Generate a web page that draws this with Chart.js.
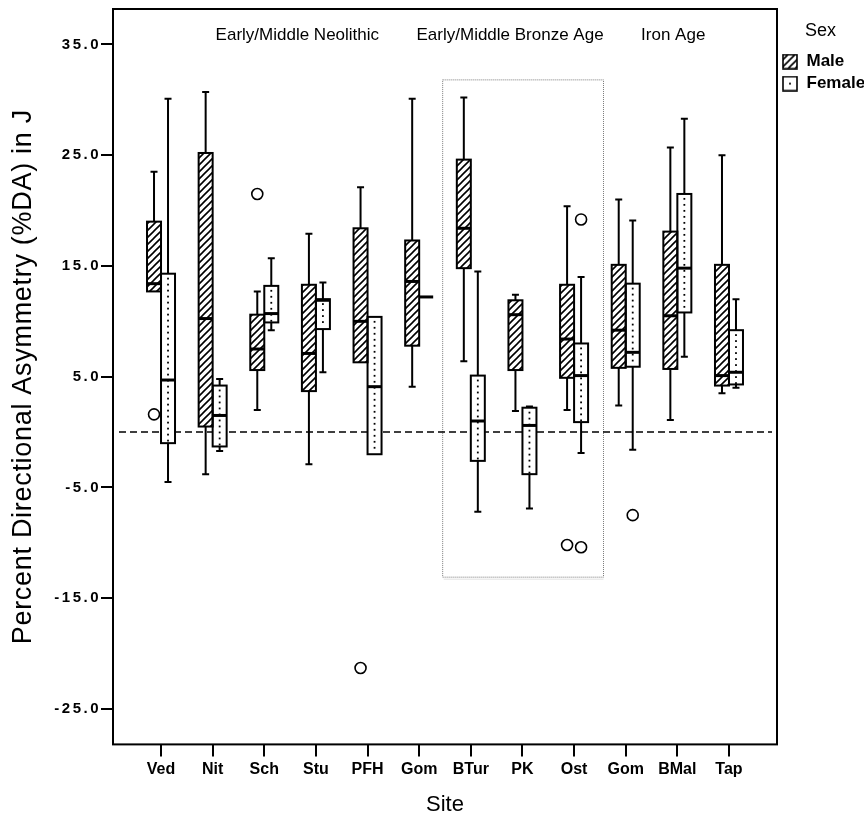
<!DOCTYPE html>
<html>
<head>
<meta charset="utf-8">
<script src="https://cdn.jsdelivr.net/npm/chart.js@4.4.1/dist/chart.umd.min.js"></script>
<style>
  html, body { margin: 0; padding: 0; background: #fff; }
</style>
</head>
<body>
<canvas id="chart" width="864" height="818"></canvas>
<script>
const sites = ["Ved", "Nit", "Sch", "Stu", "PFH", "Gom", "BTur", "PK", "Ost", "Gom", "BMal", "Tap"];
const yTicks = [-25, -15, -5, 5, 15, 25, 35];

// boxplot values per site: whisker low, lower quartile, median, upper quartile, whisker high
const maleMin    = [12.7, -3.8, 2.0, -2.9, 6.3, 4.1, 6.4, 1.9, 2.0, 2.4, 1.1, 3.5];
const maleQ1     = [12.7, 0.5, 5.6, 3.7, 6.3, 7.8, 14.8, 5.6, 4.9, 5.8, 5.7, 4.2];
const maleMedian = [13.4, 10.25, 7.5, 7.1, 10.0, 13.6, 18.4, 10.6, 8.4, 9.2, 10.5, 5.1];
const maleQ3     = [19.0, 25.2, 10.6, 13.3, 18.4, 17.3, 24.6, 11.9, 13.3, 15.1, 18.1, 15.1];
const maleMax    = [23.5, 30.7, 12.7, 17.9, 22.1, 30.1, 30.2, 12.4, 20.4, 21.0, 25.7, 25.0];

const femaleMin    = [-4.5, -1.7, 9.2, 5.4, -2.0, 12.2, -7.2, -6.9, -1.9, -1.6, 6.8, 4.0];
const femaleQ1     = [-1.0, -1.3, 9.9, 9.3, -2.0, 12.2, -2.6, -3.8, 0.9, 5.9, 10.8, 4.3];
const femaleMedian = [4.7, 1.5, 10.7, 11.9, 4.1, 12.2, 1.0, 0.6, 5.1, 7.2, 14.8, 5.4];
const femaleQ3     = [14.3, 4.2, 13.2, 12.0, 10.4, 12.2, 5.1, 2.2, 8.0, 13.4, 21.5, 9.2];
const femaleMax    = [30.1, 4.8, 15.7, 13.5, 10.4, 12.2, 14.5, 2.3, 14.0, 19.1, 28.3, 12.0];

// outliers as [site index, value]
const maleOutliers   = [[0, 1.6], [2, 21.5], [4, -21.3], [8, -10.2]];
const femaleOutliers = [[8, 19.2], [8, -10.4], [9, -7.5]];

// period headings and the bronze age frame (x in site units, y in %DA)
const periods = ["Early/Middle Neolithic", "Early/Middle Bronze Age", "Iron Age"];
const periodCenters = [2.64, 6.76, 9.92];
const periodY = 35.85;
const bronzeFrame = { from: 5.455, to: 8.57, low: -13.1, high: 31.8 };

const FONT = '"Liberation Sans", Arial, Helvetica, sans-serif';
Chart.defaults.font.family = FONT;
Chart.defaults.color = "#000";

const canvas = document.getElementById("chart");
const mainCtx = canvas.getContext("2d");

function hatchTile() {
  const c = document.createElement("canvas");
  c.width = c.height = 7;
  const g = c.getContext("2d");
  g.fillStyle = "#fff";
  g.fillRect(0, 0, 7, 7);
  g.strokeStyle = "#000";
  g.lineWidth = 1.6;
  g.beginPath();
  g.moveTo(-1, 8); g.lineTo(8, -1);
  g.moveTo(-1, 1); g.lineTo(1, -1);
  g.moveTo(6, 8); g.lineTo(8, 6);
  g.stroke();
  return c;
}
const hatch = mainCtx.createPattern(hatchTile(), "repeat");

function swatch(male) {
  const c = document.createElement("canvas");
  c.width = c.height = 16;
  const g = c.getContext("2d");
  g.fillStyle = male ? g.createPattern(hatchTile(), "repeat") : "#fff";
  g.fillRect(1, 1, 14, 14);
  if (!male) {
    g.fillStyle = "#000";
    g.fillRect(7.1, 7.1, 1.8, 1.8);
  }
  g.strokeStyle = "#000";
  g.lineWidth = 1.6;
  g.strokeRect(1, 1, 14, 14);
  return c;
}

const boxPlot = {
  id: "boxPlot",
  beforeDatasetsDraw(chart) {
    const { ctx, chartArea: a, scales: { x, y } } = chart;
    ctx.save();
    // bronze age frame
    ctx.strokeStyle = "#7a7a7a";
    ctx.lineWidth = 1;
    ctx.setLineDash([1, 1]);
    const fx = x.getPixelForValue(bronzeFrame.from), fx2 = x.getPixelForValue(bronzeFrame.to);
    const fy = y.getPixelForValue(bronzeFrame.high), fy2 = y.getPixelForValue(bronzeFrame.low);
    ctx.strokeRect(fx, fy, fx2 - fx, fy2 - fy);
    ctx.strokeStyle = "rgba(0,0,0,0.12)";
    ctx.setLineDash([]);
    ctx.beginPath();
    ctx.moveTo(fx + 1, fy2 + 2); ctx.lineTo(fx2, fy2 + 2);
    ctx.stroke();
    // zero reference line
    ctx.strokeStyle = "#000";
    ctx.lineWidth = 1.5;
    ctx.setLineDash([7, 4]);
    const y0 = y.getPixelForValue(0);
    ctx.beginPath();
    ctx.moveTo(a.left + 6, y0);
    ctx.lineTo(a.right - 5, y0);
    ctx.stroke();
    ctx.setLineDash([]);
    // plot frame
    ctx.lineWidth = 2;
    ctx.strokeRect(a.left, a.top, a.right - a.left, a.bottom - a.top);
    ctx.restore();
  },
  afterDatasetsDraw(chart) {
    const { ctx, scales: { x, y } } = chart;
    const groups = [
      { min: maleMin, med: maleMedian, max: maleMax, out: maleOutliers, dots: false },
      { min: femaleMin, med: femaleMedian, max: femaleMax, out: femaleOutliers, dots: true }
    ];
    ctx.save();
    ctx.strokeStyle = "#000";
    groups.forEach((g, di) => {
      const meta = chart.getDatasetMeta(di);
      meta.data.forEach((bar, i) => {
        const p = bar.getProps(["x", "y", "base", "width"], true);
        const l = p.x - p.width / 2, r = p.x + p.width / 2;
        const t = Math.min(p.y, p.base), b = Math.max(p.y, p.base);
        if (g.dots) {
          ctx.fillStyle = "#000";
          for (let yy = t + 4; yy < b - 2; yy += 6) ctx.fillRect(p.x - 0.9, yy, 1.8, 1.8);
        }
        ctx.lineWidth = 2;
        if (b - t > 0.5) ctx.strokeRect(l, t, r - l, b - t);
        const yMax = y.getPixelForValue(g.max[i]);
        const yMin = y.getPixelForValue(g.min[i]);
        ctx.beginPath();
        if (yMax < t - 0.5) {
          ctx.moveTo(p.x, t); ctx.lineTo(p.x, yMax);
          ctx.moveTo(p.x - 3.5, yMax); ctx.lineTo(p.x + 3.5, yMax);
        }
        if (yMin > b + 0.5) {
          ctx.moveTo(p.x, b); ctx.lineTo(p.x, yMin);
          ctx.moveTo(p.x - 3.5, yMin); ctx.lineTo(p.x + 3.5, yMin);
        }
        ctx.stroke();
        const ym = y.getPixelForValue(g.med[i]);
        ctx.lineWidth = 3;
        ctx.beginPath();
        ctx.moveTo(l, ym); ctx.lineTo(r, ym);
        ctx.stroke();
      });
      ctx.lineWidth = 1.6;
      g.out.forEach(([i, v]) => {
        const bar = meta.data[i];
        ctx.beginPath();
        ctx.arc(bar.x, y.getPixelForValue(v), 5.5, 0, Math.PI * 2);
        ctx.fillStyle = "#fff";
        ctx.fill();
        ctx.stroke();
      });
    });
    // period headings
    ctx.fillStyle = "#000";
    ctx.font = "17px " + FONT;
    ctx.textAlign = "center";
    ctx.textBaseline = "middle";
    periods.forEach((txt, k) => {
      ctx.fillText(txt, x.getPixelForValue(periodCenters[k]), y.getPixelForValue(periodY));
    });
    ctx.restore();
  }
};

// wider letter spacing for the y axis texts, as in the original
const ySpacing = {
  id: "ySpacing",
  afterLayout(chart) {
    const s = chart.scales.y;
    if (s._spaced) return;
    s._spaced = true;
    const ctx = chart.ctx;
    const labels = s.drawLabels, title = s.drawTitle;
    s.drawLabels = function (area) {
      ctx.save(); ctx.letterSpacing = "2.5px"; labels.call(this, area); ctx.restore();
    };
    s.drawTitle = function () {
      ctx.save(); ctx.letterSpacing = "0.7px"; title.call(this); ctx.restore();
    };
  }
};

new Chart(canvas, {
  type: "bar",
  data: {
    datasets: [
      {
        label: "Male",
        data: maleQ1.map((q1, i) => ({ x: i, y: [q1, maleQ3[i]] })),
        backgroundColor: hatch,
        borderWidth: 0
      },
      {
        label: "Female",
        data: femaleQ1.map((q1, i) => ({ x: i, y: [q1, femaleQ3[i]] })),
        backgroundColor: "#fff",
        borderWidth: 0
      }
    ]
  },
  options: {
    responsive: false,
    animation: false,
    devicePixelRatio: 1,
    barThickness: 14,
    layout: { padding: 0 },
    scales: {
      x: {
        type: "linear",
        min: -0.93,
        max: 11.93,
        offset: false,
        afterBuildTicks: s => { s.ticks = sites.map((_, i) => ({ value: i })); },
        ticks: {
          autoSkip: false,
          maxRotation: 0,
          padding: 4,
          font: { size: 16, weight: "bold" },
          callback: v => sites[v]
        },
        grid: { drawOnChartArea: false, offset: false, tickLength: 12, lineWidth: 2, color: "#000" },
        border: { display: false },
        title: { display: true, text: "Site", font: { size: 22 }, padding: { top: 8, bottom: 0 } }
      },
      y: {
        min: -28.2,
        max: 38.2,
        afterBuildTicks: s => { s.ticks = yTicks.map(v => ({ value: v })); },
        afterFit: s => { s.width = 113; },
        ticks: {
          padding: 0,
          font: { size: 15, weight: "bold" },
          callback: v => v.toFixed(1)
        },
        grid: { drawOnChartArea: false, tickLength: 12, lineWidth: 2, color: "#000" },
        border: { display: false },
        title: {
          display: true,
          text: "Percent Directional Asymmetry (%DA) in J",
          font: { size: 27 },
          padding: { top: 7.5, bottom: 0 }
        }
      }
    },
    plugins: {
      tooltip: { enabled: false },
      legend: {
        position: "right",
        align: "start",
        maxWidth: 87,
        title: {
          display: true,
          text: "Sex",
          color: "#000",
          font: { size: 18 },
          padding: { top: 22.5, bottom: 4 }
        },
        labels: {
          usePointStyle: true,
          pointStyleWidth: 16,
          padding: 5,
          color: "#000",
          font: { size: 17, weight: "bold" },
          generateLabels: () => [
            { text: "Male", pointStyle: swatch(true), fontColor: "#000", fillStyle: "#fff", strokeStyle: "#000", lineWidth: 0, hidden: false, datasetIndex: 0 },
            { text: "Female", pointStyle: swatch(false), fontColor: "#000", fillStyle: "#fff", strokeStyle: "#000", lineWidth: 0, hidden: false, datasetIndex: 1 }
          ]
        }
      }
    }
  },
  plugins: [boxPlot, ySpacing]
});
</script>
</body>
</html>
